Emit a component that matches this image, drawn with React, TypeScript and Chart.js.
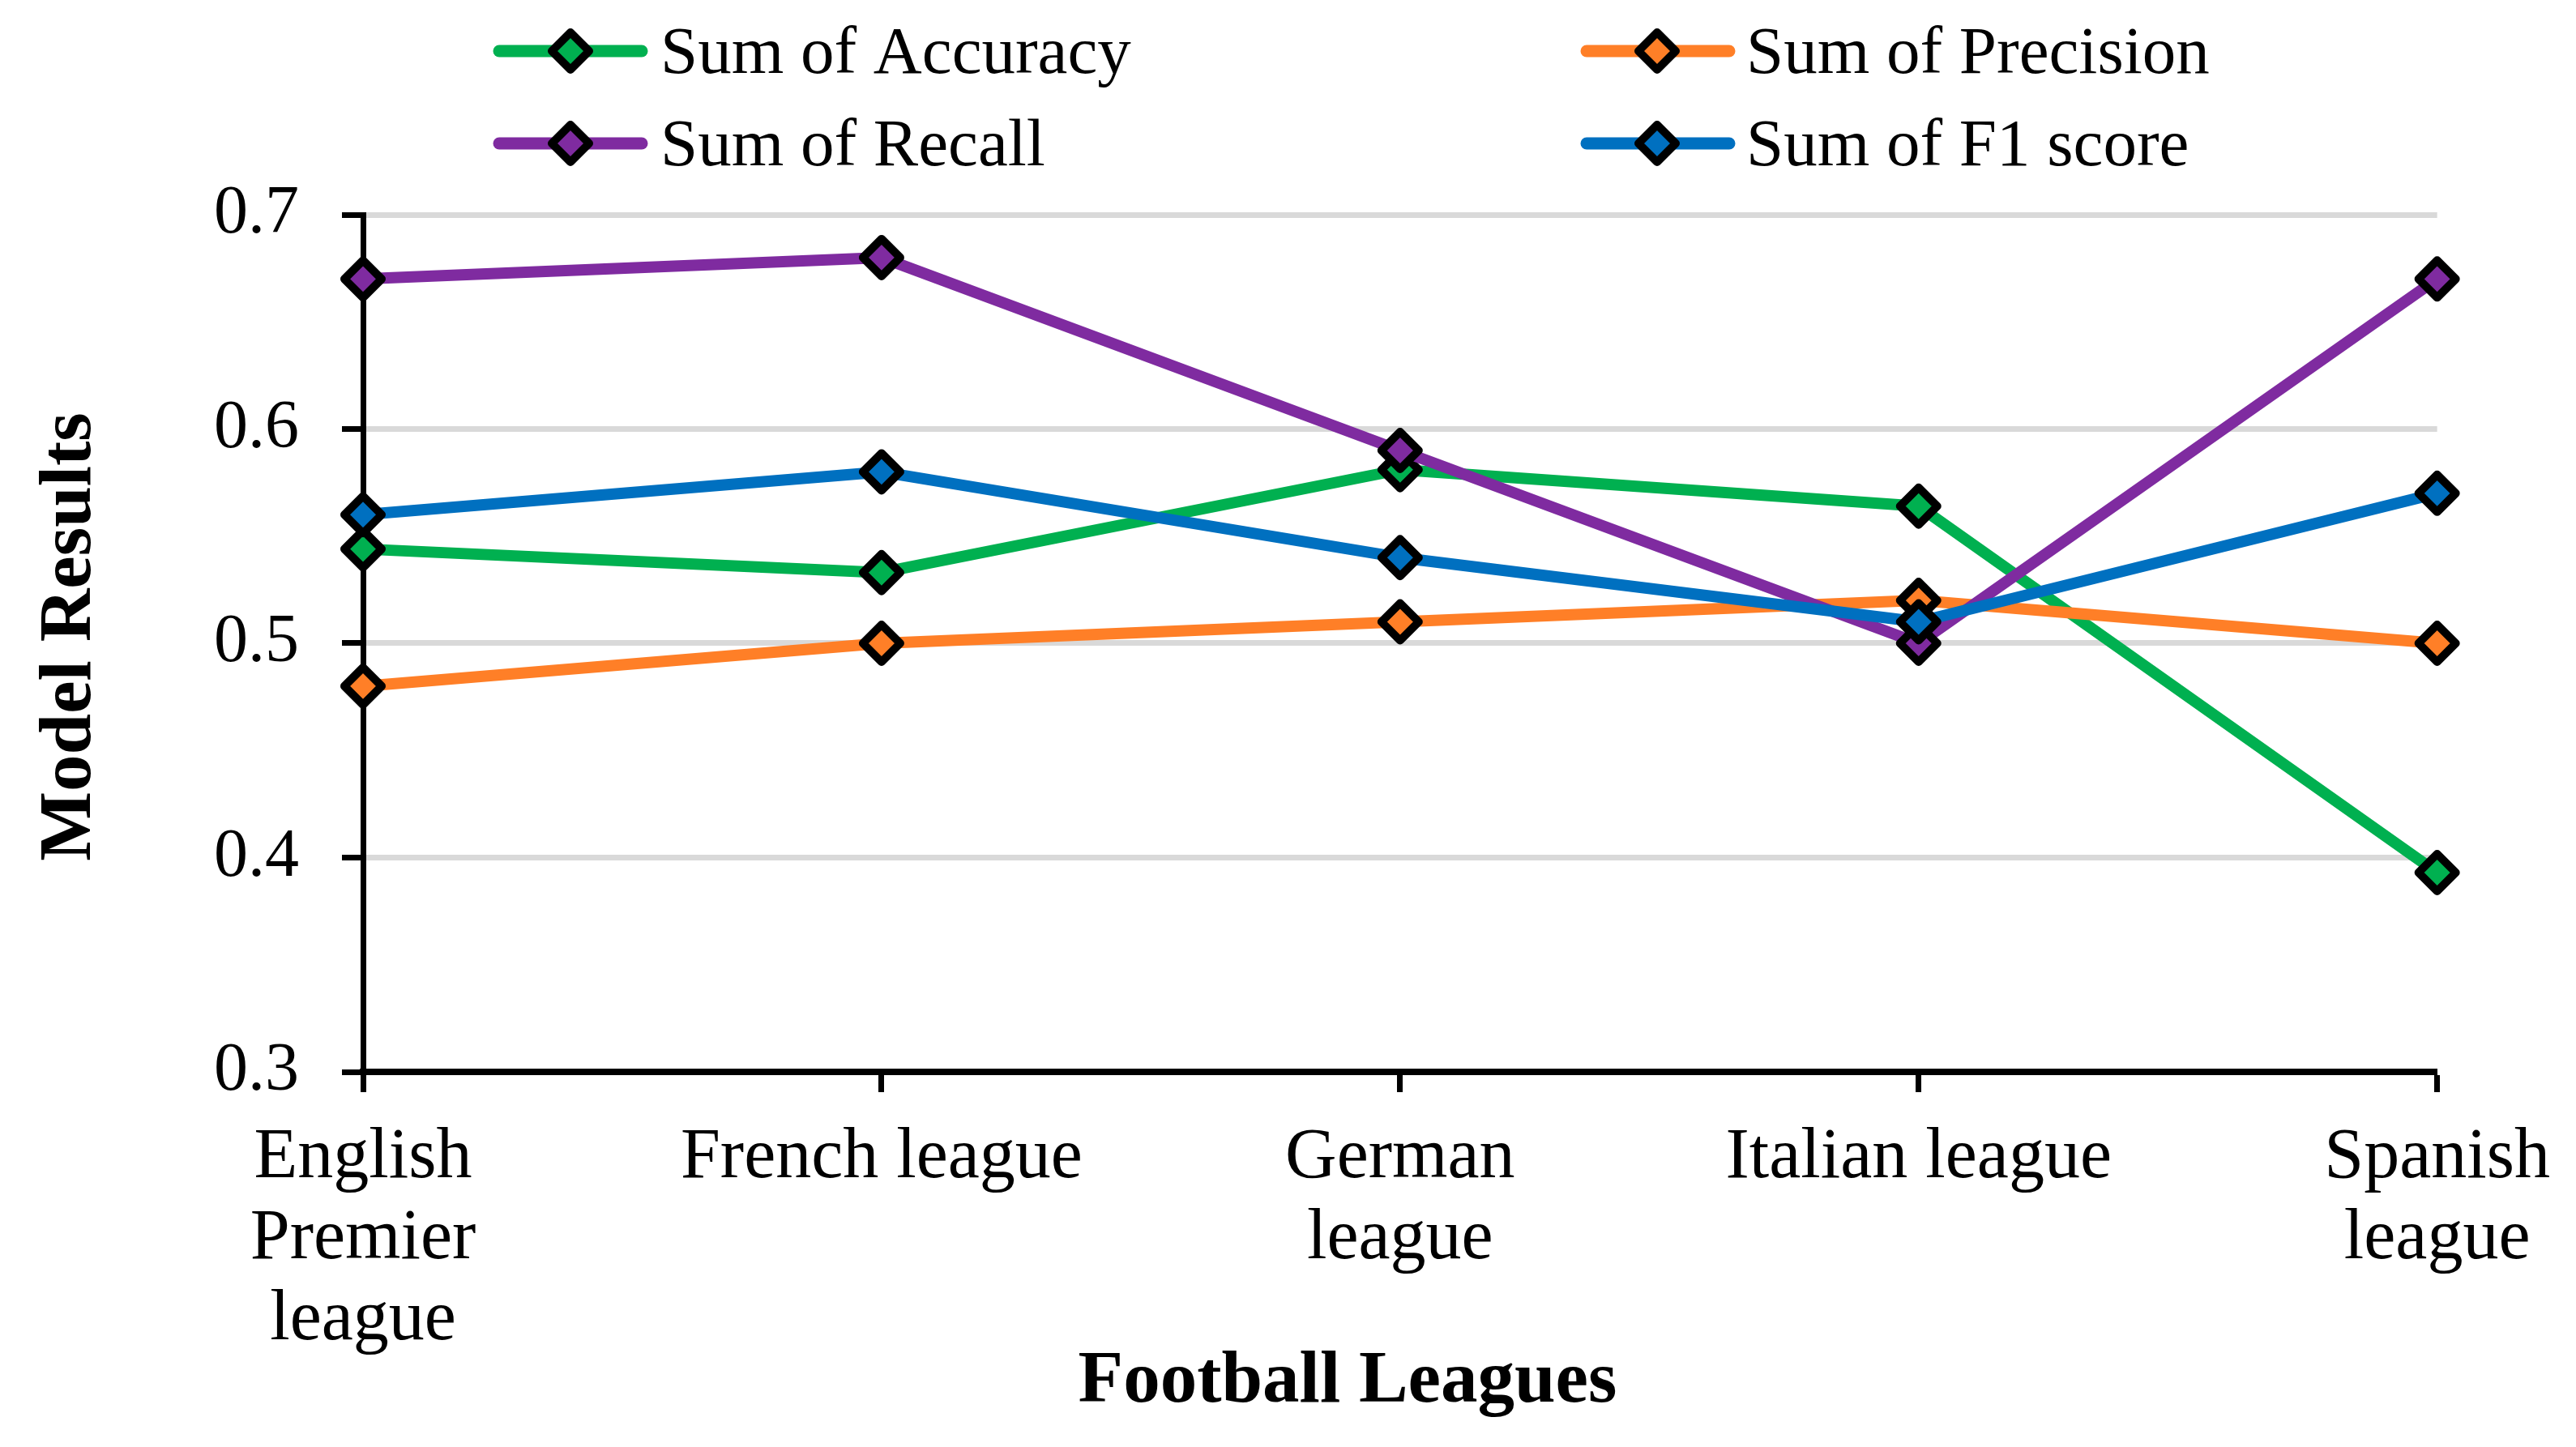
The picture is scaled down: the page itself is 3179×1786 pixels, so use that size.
import React, { useEffect, useRef } from 'react';
import { Chart, registerables } from 'chart.js';

Chart.register(...registerables);

// ---- Data ----
const categories: (string | string[])[] = [
  ['English', 'Premier', 'league'],
  'French league',
  ['German', 'league'],
  'Italian league',
  ['Spanish', 'league'],
];
const accuracy = [0.544, 0.533, 0.581, 0.564, 0.393];
const precision = [0.48, 0.5, 0.51, 0.52, 0.5];
const recall = [0.67, 0.68, 0.59, 0.5, 0.67];
const f1Score = [0.56, 0.58, 0.54, 0.51, 0.57];
const seriesNames = ['Sum of Accuracy', 'Sum of Precision', 'Sum of Recall', 'Sum of F1 score'];
const seriesColors = ['#00B050', '#FF7F27', '#7F2BA0', '#0070C0'];
const yMin = 0.3;
const yMax = 0.7;
const yStep = 0.1;
const xTitle = 'Football Leagues';
const yTitle = 'Model Results';

const FONT = "'Liberation Serif', 'Times New Roman', serif";
const W = 3179;
const H = 1786;

// legend layout (2 x 2 grid)
const legendCols = [
  { x1: 616, x2: 792, marker: 704, text: 815 },
  { x1: 1958, x2: 2134, marker: 2045, text: 2155 },
];
const legendRows = [{ y: 63, base: 90 }, { y: 177, base: 204 }];

function drawDiamond(ctx: CanvasRenderingContext2D, x: number, y: number, r: number, fill: string) {
  ctx.beginPath();
  ctx.moveTo(x - r, y);
  ctx.lineTo(x, y - r);
  ctx.lineTo(x + r, y);
  ctx.lineTo(x, y + r);
  ctx.closePath();
  ctx.fillStyle = fill;
  ctx.fill();
  ctx.lineWidth = 10;
  ctx.lineJoin = 'round';
  ctx.strokeStyle = '#000';
  ctx.stroke();
}

const decorPlugin = {
  id: 'decor',
  beforeDatasetsDraw(chart: any) {
    chart.ctx.lineJoin = 'round';
  },
  afterDraw(chart: any) {
    const ctx: CanvasRenderingContext2D = chart.ctx;
    ctx.save();
    // legend
    seriesNames.forEach((name, i) => {
      const col = legendCols[i % 2];
      const row = legendRows[Math.floor(i / 2)];
      ctx.beginPath();
      ctx.moveTo(col.x1, row.y);
      ctx.lineTo(col.x2, row.y);
      ctx.lineWidth = 15;
      ctx.lineCap = 'round';
      ctx.strokeStyle = seriesColors[i];
      ctx.stroke();
      drawDiamond(ctx, col.marker, row.y, 23, seriesColors[i]);
      ctx.font = `83px ${FONT}`;
      ctx.fillStyle = '#000';
      ctx.textAlign = 'left';
      ctx.textBaseline = 'alphabetic';
      ctx.fillText(name, col.text, row.base);
    });
    // axis titles
    ctx.font = `bold 91px ${FONT}`;
    ctx.fillStyle = '#000';
    ctx.textAlign = 'center';
    ctx.textBaseline = 'alphabetic';
    ctx.fillText(xTitle, 1663, 1730);
    ctx.translate(111, 786);
    ctx.rotate(-Math.PI / 2);
    ctx.fillText(yTitle, 0, 0);
    ctx.restore();
  },
};

export default function App() {
  const ref = useRef<HTMLCanvasElement>(null);
  useEffect(() => {
    const values = [accuracy, precision, recall, f1Score];
    const orders = [3, 2, 1, 0];
    const chart = new Chart(ref.current as HTMLCanvasElement, {
      type: 'line',
      data: {
        labels: categories as any,
        datasets: values.map((v, i) => ({
          label: seriesNames[i],
          data: v,
          borderColor: seriesColors[i],
          backgroundColor: seriesColors[i],
          borderWidth: 14,
          borderJoinStyle: 'round',
          borderCapStyle: 'round',
          tension: 0,
          pointStyle: 'rectRot',
          pointRadius: 23,
          pointHoverRadius: 23,
          pointBorderWidth: 10,
          pointBorderColor: '#000',
          pointBackgroundColor: seriesColors[i],
          clip: false as any,
          order: orders[i],
          fill: false,
        })),
      },
      options: {
        animation: false,
        responsive: false,
        events: [],
        layout: { padding: { top: 265, right: 169, bottom: 0, left: 0 } },
        plugins: {
          legend: { display: false },
          tooltip: { enabled: false },
          title: { display: false },
        },
        scales: {
          x: {
            type: 'category',
            offset: false,
            grid: {
              display: true,
              drawOnChartArea: false,
              drawTicks: true,
              tickLength: 25,
              tickColor: '#000',
              tickWidth: 7,
              offset: false,
            },
            border: { display: true, color: '#000', width: 8 },
            ticks: {
              color: '#000',
              font: { family: FONT, size: 88, lineHeight: 1.136 },
              padding: 32,
              maxRotation: 0,
              minRotation: 0,
              autoSkip: false,
            },
            afterFit: (scale: any) => {
              scale.height = H - 1323;
            },
          },
          y: {
            min: yMin,
            max: yMax,
            grid: {
              color: '#D9D9D9',
              lineWidth: 7,
              drawTicks: true,
              tickLength: 26,
              tickColor: '#000',
              tickWidth: 7,
            },
            border: { display: true, color: '#000', width: 7 },
            ticks: {
              stepSize: yStep,
              color: '#000',
              font: { family: FONT, size: 84 },
              padding: 53,
              callback: (v: any) => Number(v).toFixed(1),
            },
            afterFit: (scale: any) => {
              scale.width = 448;
            },
          },
        },
      } as any,
      plugins: [decorPlugin],
    });
    return () => chart.destroy();
  }, []);
  return (
    <div style={{ position: 'fixed', left: 0, top: 0, width: W, height: H, background: '#fff' }}>
      <canvas ref={ref} width={W} height={H} style={{ width: W, height: H, display: 'block' }} />
    </div>
  );
}
